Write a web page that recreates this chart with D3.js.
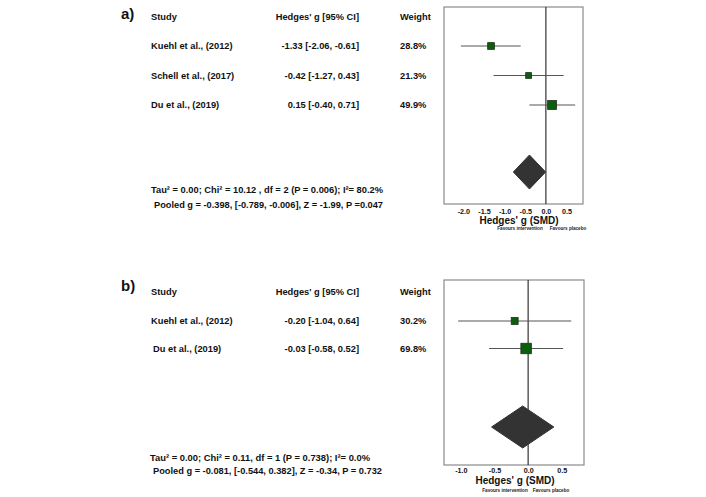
<!DOCTYPE html>
<html><head><meta charset="utf-8">
<script src="https://cdn.jsdelivr.net/npm/d3@7"></script>
<style>
html,body{margin:0;padding:0;background:#fff;}
svg{display:block;font-family:"Liberation Sans",Arial,sans-serif;}
</style></head>
<body>
<svg id="c" width="706" height="497"></svg>
<script>
// ---- Data: panel a ----
const studiesA = ["Kuehl et al., (2012)", "Schell et al., (2017)", "Du et al., (2019)"];
const gA = [-1.33, -0.42, 0.15];
const lowerA = [-2.06, -1.27, -0.40];
const upperA = [-0.61, 0.43, 0.71];
const weightA = [28.8, 21.3, 49.9];
const pooledA = [-0.398, -0.789, -0.006]; // estimate, lower, upper
const statsA = ["Tau\u00B2 = 0.00; Chi\u00B2 = 10.12 , df = 2 (P = 0.006); I\u00B2= 80.2%",
                "Pooled g = -0.398, [-0.789, -0.006], Z = -1.99, P =0.047"];
const ticksA = [-2.0, -1.5, -1.0, -0.5, 0.0, 0.5];
const tickLabelsA = ["-2.0", "-1.5", "-1.0", "-0.5", "0.0", "0.5"];

// ---- Data: panel b ----
const studiesB = ["Kuehl et al., (2012)", "Du et al., (2019)"];
const gB = [-0.20, -0.03];
const lowerB = [-1.04, -0.58];
const upperB = [0.64, 0.52];
const weightB = [30.2, 69.8];
const pooledB = [-0.081, -0.544, 0.382];
const statsB = ["Tau\u00B2 = 0.00; Chi\u00B2 = 0.11, df = 1 (P = 0.738); I\u00B2= 0.0%",
                "Pooled g = -0.081, [-0.544, 0.382], Z = -0.34, P = 0.732"];
const ticksB = [-1.0, -0.5, 0.0, 0.5];
const tickLabelsB = ["-1.0", "-0.5", "0.0", "0.5"];

const headers = ["Study", "Hedges' g [95% CI]", "Weight"];
const axisTitle = "Hedges' g (SMD)";
const favours = ["Favours intervention", "Favours placebo"];

const svg = d3.select("#c");
const sizeScale = d3.scaleSqrt().domain([0, 70]).range([0, 10.5]);
fmt2 = d => (d < 0 ? "-" : "") + Math.abs(d).toFixed(2);

function panel(cfg) {
  const g = svg.append("g");
  const x = d3.scaleLinear().domain(cfg.domain).range([cfg.x0, cfg.x1]);
  const y = d3.scaleLinear().domain([0, 1]).range([cfg.row0, cfg.row0 + cfg.step]);
  const n = cfg.studies.length;
  const rows = d3.range(n);

  // label
  g.append("text").attr("x", 121).attr("y", cfg.labelY)
    .attr("font-size", 15).attr("font-weight", "bold").attr("fill", "#111").text(cfg.label);

  // headers
  g.append("text").attr("x", 151).attr("y", cfg.headY).attr("font-size", 9.3)
    .attr("font-weight", "bold").attr("fill", "#111").text(headers[0]);
  g.append("text").attr("x", 359).attr("y", cfg.headY).attr("font-size", 9.3).attr("text-anchor", "end")
    .attr("font-weight", "bold").attr("fill", "#111").text(headers[1]);
  g.append("text").attr("x", 400).attr("y", cfg.headY).attr("font-size", 9.3)
    .attr("font-weight", "bold").attr("fill", "#111").text(headers[2]);

  // study rows
  g.selectAll("text.st").data(rows).join("text").attr("class", "st")
    .attr("x", (d, i) => cfg.studyX[i]).attr("y", d => y(d) + 3.3).attr("font-size", 9.3)
    .attr("font-weight", "bold").attr("fill", "#111").text(d => cfg.studies[d]);
  g.selectAll("text.es").data(rows).join("text").attr("class", "es")
    .attr("x", 359).attr("y", d => y(d) + 3.3).attr("font-size", 9.3).attr("text-anchor", "end")
    .attr("font-weight", "bold").attr("fill", "#111")
    .text(d => `${fmt2(cfg.g[d])} [${fmt2(cfg.lo[d])}, ${fmt2(cfg.hi[d])}]`);
  g.selectAll("text.wt").data(rows).join("text").attr("class", "wt")
    .attr("x", 400).attr("y", d => y(d) + 3.3).attr("font-size", 9.3)
    .attr("font-weight", "bold").attr("fill", "#111").text(d => cfg.w[d].toFixed(1) + "%");

  // stats
  cfg.stats.forEach((s, i) => {
    g.append("text").attr("x", cfg.statX[i]).attr("y", cfg.statY[i]).attr("font-size", 9)
      .attr("font-weight", "bold").attr("fill", "#111")
      .attr("textLength", cfg.statW[i]).attr("lengthAdjust", "spacingAndGlyphs").text(s);
  });

  // box
  g.append("rect").attr("x", cfg.x0).attr("y", cfg.y0).attr("width", cfg.x1 - cfg.x0)
    .attr("height", cfg.y1 - cfg.y0).attr("fill", "none").attr("stroke", "#8a8a8a").attr("stroke-width", 1.2);
  // zero line
  g.append("line").attr("x1", x(0)).attr("x2", x(0)).attr("y1", cfg.y0).attr("y2", cfg.y1)
    .attr("stroke", "#333").attr("stroke-width", 1.2);

  // CI lines
  g.selectAll("line.ci").data(rows).join("line").attr("class", "ci")
    .attr("x1", d => x(cfg.lo[d])).attr("x2", d => x(cfg.hi[d]))
    .attr("y1", d => y(d)).attr("y2", d => y(d)).attr("stroke", "#555").attr("stroke-width", 1);
  // squares
  g.selectAll("rect.sq").data(rows).join("rect").attr("class", "sq")
    .attr("x", d => x(cfg.g[d]) - sizeScale(cfg.w[d]) / 2)
    .attr("y", d => y(d) - sizeScale(cfg.w[d]) / 2)
    .attr("width", d => sizeScale(cfg.w[d])).attr("height", d => sizeScale(cfg.w[d]))
    .attr("fill", "#0b5e0b").attr("stroke", "#1f2f1f").attr("stroke-width", 0.8);

  // diamond
  const p = cfg.pooled, dy = cfg.diamondY, hh = cfg.diamondH;
  g.append("path")
    .attr("d", `M${x(p[1])},${dy} L${x(p[0])},${dy - hh} L${x(p[2])},${dy} L${x(p[0])},${dy + hh} Z`)
    .attr("fill", "#333").attr("stroke", "#333");

  // axis
  const ax = g.append("g").attr("transform", `translate(0,${cfg.y1})`)
    .call(d3.axisBottom(x).tickValues(cfg.ticks).tickSize(0).tickPadding(cfg.tickPad)
      .tickFormat((d, i) => cfg.tickLabels[i]));
  ax.select(".domain").remove();
  ax.selectAll("text").attr("font-size", 7.2).attr("font-weight", "bold").attr("fill", "#111")
    .attr("font-family", "Liberation Sans, Arial, sans-serif");

  g.append("text").attr("x", cfg.titleX).attr("y", cfg.titleY).attr("text-anchor", "middle")
    .attr("font-size", 10).attr("font-weight", "bold").attr("fill", "#111").text(axisTitle);
  g.append("text").attr("x", cfg.favX[0]).attr("y", cfg.favY).attr("text-anchor", "middle")
    .attr("font-size", 4.6).attr("font-weight", "bold").attr("fill", "#222").text(favours[0]);
  g.append("text").attr("x", cfg.favX[1]).attr("y", cfg.favY).attr("text-anchor", "middle")
    .attr("font-size", 4.6).attr("font-weight", "bold").attr("fill", "#222").text(favours[1]);
}

panel({
  label: "a)", labelY: 19, headY: 20,
  studies: studiesA, g: gA, lo: lowerA, hi: upperA, w: weightA, pooled: pooledA,
  studyX: [151, 151, 151],
  stats: statsA, statX: [151, 154], statY: [193, 208], statW: [232, 229],
  domain: [-2.47, 0.90], x0: 444, x1: 583, y0: 7, y1: 204,
  row0: 46, step: 29.5, diamondY: 172, diamondH: 17,
  ticks: ticksA, tickLabels: tickLabelsA, tickPad: 5,
  titleX: 519, titleY: 224, favX: [520, 568], favY: 230
});

panel({
  label: "b)", labelY: 291, headY: 295,
  studies: studiesB, g: gB, lo: lowerB, hi: upperB, w: weightB, pooled: pooledB,
  studyX: [151, 153],
  stats: statsB, statX: [150, 153], statY: [461, 474], statW: [220, 229],
  domain: [-1.25, 0.83], x0: 444, x1: 584, y0: 280, y1: 465,
  row0: 321, step: 27.5, diamondY: 427, diamondH: 21,
  ticks: ticksB, tickLabels: tickLabelsB, tickPad: 3,
  titleX: 515, titleY: 484, favX: [505, 551], favY: 492
});
</script>
</body></html>
